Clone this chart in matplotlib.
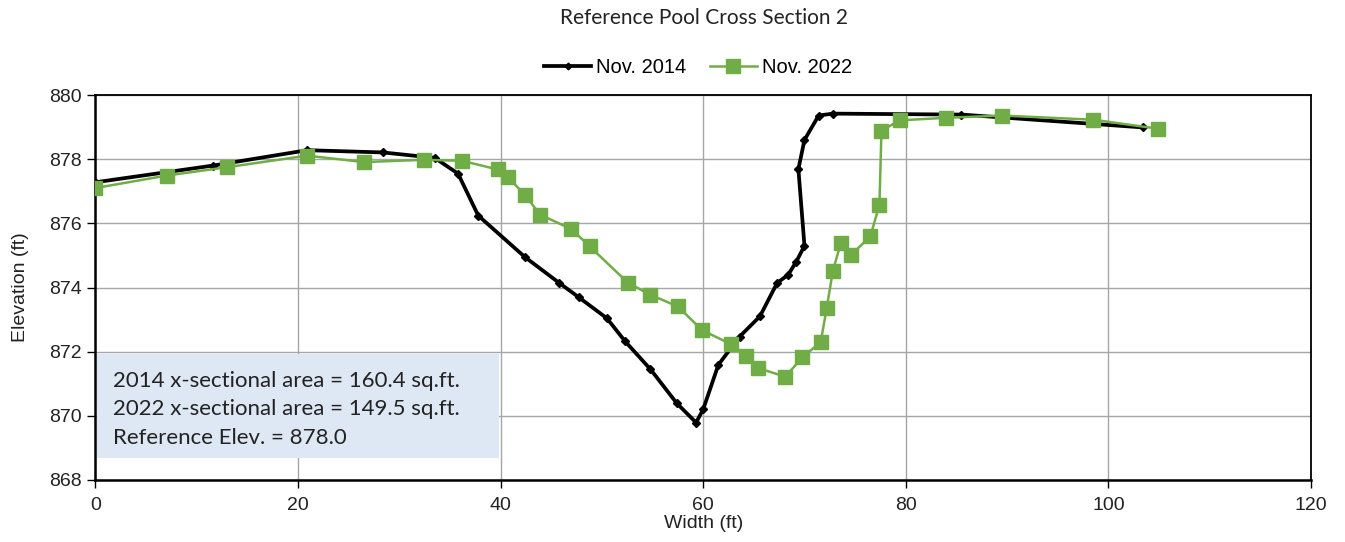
import matplotlib
matplotlib.use("Agg")
import matplotlib.pyplot as plt
from matplotlib.patches import Rectangle

# Survey of Nov. 2014: station (ft) and bed elevation (ft)
width_2014 = [0.0, 11.6, 20.9, 28.4, 33.5, 35.8, 37.8, 42.4, 45.8, 47.7, 50.5,
              52.3, 54.8, 57.4, 59.3, 60.0, 61.5, 63.6, 65.6, 67.3, 68.4, 69.2,
              70.0, 69.4, 70.0, 71.4, 72.8, 85.5, 103.4]
elev_2014 = [877.28, 877.80, 878.28, 878.21, 878.04, 877.55, 876.24, 874.95,
             874.14, 873.70, 873.04, 872.32, 871.45, 870.39, 869.79, 870.20,
             871.59, 872.47, 873.10, 874.14, 874.40, 874.81, 875.30, 877.69,
             878.60, 879.36, 879.42, 879.39, 878.99]

# Survey of Nov. 2022
width_2022 = [0.0, 7.05, 13.0, 20.9, 26.5, 32.4, 36.2, 39.7, 40.7, 42.4, 43.9,
              47.0, 48.8, 52.6, 54.8, 57.5, 59.9, 62.7, 64.2, 65.4, 68.1, 69.8,
              71.6, 72.2, 72.8, 73.6, 74.6, 76.5, 77.4, 77.6, 79.4, 84.0, 89.5,
              98.5, 104.9]
elev_2022 = [877.10, 877.49, 877.75, 878.11, 877.91, 877.98, 877.95, 877.68,
             877.44, 876.89, 876.27, 875.82, 875.28, 874.14, 873.77, 873.41,
             872.67, 872.24, 871.85, 871.49, 871.22, 871.82, 872.30, 873.36,
             874.52, 875.39, 875.02, 875.59, 876.58, 878.89, 879.21, 879.29,
             879.36, 879.23, 878.95]

x_ticks = [0, 20, 40, 60, 80, 100, 120]
y_ticks = [868, 870, 872, 874, 876, 878, 880]

title = "Reference Pool Cross Section 2"
series_labels = ["Nov. 2014", "Nov. 2022"]
note_lines = ["2014 x-sectional area = 160.4 sq.ft.",
              "2022 x-sectional area = 149.5 sq.ft.",
              "Reference Elev. = 878.0"]

GREEN = "#70AD47"
ARIAL = "Liberation Sans"
CALIBRI = "Lato"

fig = plt.figure(figsize=(13.45, 5.42), dpi=100)
ax = fig.add_axes([0.0709, 0.1144, 0.9038, 0.7103])

ax.plot(width_2014, elev_2014, color="black", lw=2.7, marker="D",
        markersize=3.8, label=series_labels[0], zorder=3)
ax.plot(width_2022, elev_2022, color=GREEN, lw=1.8, marker="s",
        markersize=10.5, label=series_labels[1], zorder=4)

ax.set_xlim(x_ticks[0], x_ticks[-1])
ax.set_ylim(y_ticks[0], y_ticks[-1])
ax.set_xticks(x_ticks)
ax.set_yticks(y_ticks)
ax.grid(True, color="#A6A6A6", lw=1.0)
ax.set_axisbelow(True)

for side in ("top", "right"):
    ax.spines[side].set_linewidth(1.3)
for side in ("left", "bottom"):
    ax.spines[side].set_linewidth(1.8)
for sp in ax.spines.values():
    sp.set_color("black")

ax.tick_params(axis="both", direction="out", length=6, width=1.0,
               colors="black", labelsize=14)
ax.tick_params(axis="x", pad=6)
for lab in ax.get_xticklabels() + ax.get_yticklabels():
    lab.set_fontfamily(ARIAL)
    lab.set_color("#222222")

ax.set_xlabel("Width (ft)", fontsize=14, family=ARIAL, labelpad=1,
              color="#222222")
ax.set_ylabel("Elevation (ft)", fontsize=14, family=ARIAL, labelpad=15,
              color="#222222")

fig.text(0.5235, 0.966, title, ha="center", va="center", fontsize=15,
         family=CALIBRI, color="#222222")

leg = fig.legend(loc="center", bbox_to_anchor=(0.519, 0.876), ncol=2,
                 frameon=False, prop={"family": ARIAL, "size": 14.5},
                 handlelength=2.3, columnspacing=1.2, handletextpad=0.25)
for h in leg.legend_handles:
    h.set_markersize(h.get_markersize() * 0.9)

# Annotation box with the computed areas
box = Rectangle((0.0017, 0.057), 0.33, 0.27, transform=ax.transAxes,
                facecolor="#DEE8F4", edgecolor="none", zorder=5)
ax.add_patch(box)
for i, line in enumerate(note_lines):
    ax.text(0.0147, 0.258 - i * 0.074, line, transform=ax.transAxes,
            fontsize=16, family=CALIBRI, color="#222222", va="center",
            ha="left", zorder=6)

fig.savefig("out.png", dpi=100)
